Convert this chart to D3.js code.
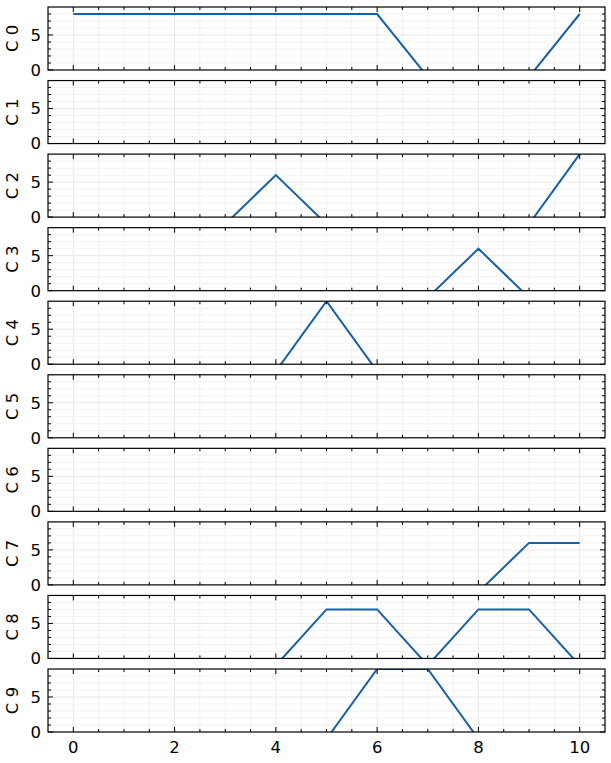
<!DOCTYPE html>
<html><head><meta charset="utf-8">
<script src="https://cdn.jsdelivr.net/npm/d3@7"></script>
<style>body{margin:0;background:#fff}svg{display:block}</style>
</head><body>
<svg id="c" width="611" height="763"></svg>
<script>
const categories = ["C 0","C 1","C 2","C 3","C 4","C 5","C 6","C 7","C 8","C 9"];
const xValues = [0,1,2,3,4,5,6,7,8,9,10];
const c0 = [8,8,8,8,8,8,8,-1,-1,-1,8];
const c1 = [-1,-1,-1,-1,-1,-1,-1,-1,-1,-1,-1];
const c2 = [-1,-1,-1,-1,6,-1,-1,-1,-1,-1,9];
const c3 = [-1,-1,-1,-1,-1,-1,-1,-1,6,-1,-1];
const c4 = [-1,-1,-1,-1,-1,9,-1,-1,-1,-1,-1];
const c5 = [-1,-1,-1,-1,-1,-1,-1,-1,-1,-1,-1];
const c6 = [-1,-1,-1,-1,-1,-1,-1,-1,-1,-1,-1];
const c7 = [-1,-1,-1,-1,-1,-1,-1,-1,-1,6,6];
const c8 = [-1,-1,-1,-1,-1,7,7,-1,7,7,-1];
const c9 = [-1,-1,-1,-1,-1,-1,9,9,-1,-1,-1];
const series = [c0,c1,c2,c3,c4,c5,c6,c7,c8,c9];
const xTickLabels = [0,2,4,6,8,10];
const yTickLabels = [0,5];

const svg = d3.select("#c");
const font = "DejaVu Sans";
const left = 48, right = 605;
const x = d3.scaleLinear().domain([-0.5,10.5]).range([left,right]);
const band = d3.scaleBand().domain(categories).range([7,732]).paddingInner(0.1436).paddingOuter(0);
const lineColor = "#1560aa";

categories.forEach((cat,i)=>{
  const top = band(cat), h = band.bandwidth(), bottom = top + h;
  const y = d3.scaleLinear().domain([0,9]).range([bottom, top]);
  const g = svg.append("g");
  // grid
  const xMinor = d3.range(-0.5,10.51,0.5).filter(v=>v>-0.5&&v<10.5);
  g.selectAll(".gx").data(xMinor).enter().append("line")
    .attr("x1",d=>x(d)).attr("x2",d=>x(d)).attr("y1",top).attr("y2",bottom)
    .attr("stroke",d=>Number.isInteger(d/2)?"#e8e8e8":"#f2f2f2").attr("stroke-width",1);
  const yMinor = d3.range(1,9,1);
  g.selectAll(".gy").data(yMinor).enter().append("line")
    .attr("x1",left).attr("x2",right).attr("y1",d=>y(d)).attr("y2",d=>y(d))
    .attr("stroke",d=>d%5===0?"#e8e8e8":"#f2f2f2").attr("stroke-width",1);
  // clip
  const cid = "clip"+i;
  svg.append("clipPath").attr("id",cid).append("rect")
    .attr("x",left).attr("y",top).attr("width",right-left).attr("height",h);
  const line = d3.line().x((d,j)=>x(xValues[j])).y(d=>y(d));
  g.append("path").datum(series[i]).attr("d",line)
    .attr("fill","none").attr("stroke",lineColor).attr("stroke-width",2)
    .attr("stroke-linejoin","miter")
    .attr("clip-path","url(#"+cid+")");
  // ticks (inward) x
  const xMajor = xTickLabels;
  const xMin = xMinor.filter(v=>!xMajor.includes(v));
  [[bottom,-1],[top,1]].forEach(([yy,dir])=>{
    g.selectAll(null).data(xMajor).enter().append("line")
      .attr("x1",d=>x(d)).attr("x2",d=>x(d)).attr("y1",yy).attr("y2",yy+dir*5)
      .attr("stroke","#000").attr("stroke-width",1);
    g.selectAll(null).data(xMin).enter().append("line")
      .attr("x1",d=>x(d)).attr("x2",d=>x(d)).attr("y1",yy).attr("y2",yy+dir*3)
      .attr("stroke","#000").attr("stroke-width",1);
  });
  const yMaj = yTickLabels;
  const yMin = d3.range(1,9,1).filter(v=>!yMaj.includes(v));
  [[left,1],[right,-1]].forEach(([xx,dir])=>{
    g.selectAll(null).data(yMaj).enter().append("line")
      .attr("x1",xx).attr("x2",xx+dir*5).attr("y1",d=>y(d)).attr("y2",d=>y(d))
      .attr("stroke","#000").attr("stroke-width",1);
    g.selectAll(null).data(yMin).enter().append("line")
      .attr("x1",xx).attr("x2",xx+dir*3).attr("y1",d=>y(d)).attr("y2",d=>y(d))
      .attr("stroke","#000").attr("stroke-width",1);
  });
  // frame
  g.append("rect").attr("x",left).attr("y",top).attr("width",right-left).attr("height",h)
    .attr("fill","none").attr("stroke","#000").attr("stroke-width",1.2);
  // y tick labels
  g.selectAll(null).data(yMaj).enter().append("text")
    .attr("x",left-7).attr("y",d=>y(d)).attr("dy","0.36em")
    .attr("text-anchor","end").attr("font-family",font).attr("font-size",16.5)
    .text(d=>d);
  // y label
  g.append("text").attr("transform",`translate(18,${(top+bottom)/2}) rotate(-90)`)
    .attr("text-anchor","middle").attr("font-family",font).attr("font-size",16.5)
    .text(cat);
  if(i===categories.length-1){
    g.selectAll(null).data(xTickLabels).enter().append("text")
      .attr("x",d=>x(d)).attr("y",bottom+21).attr("text-anchor","middle")
      .attr("font-family",font).attr("font-size",16.5).text(d=>d);
  }
});
</script>
</body></html>
